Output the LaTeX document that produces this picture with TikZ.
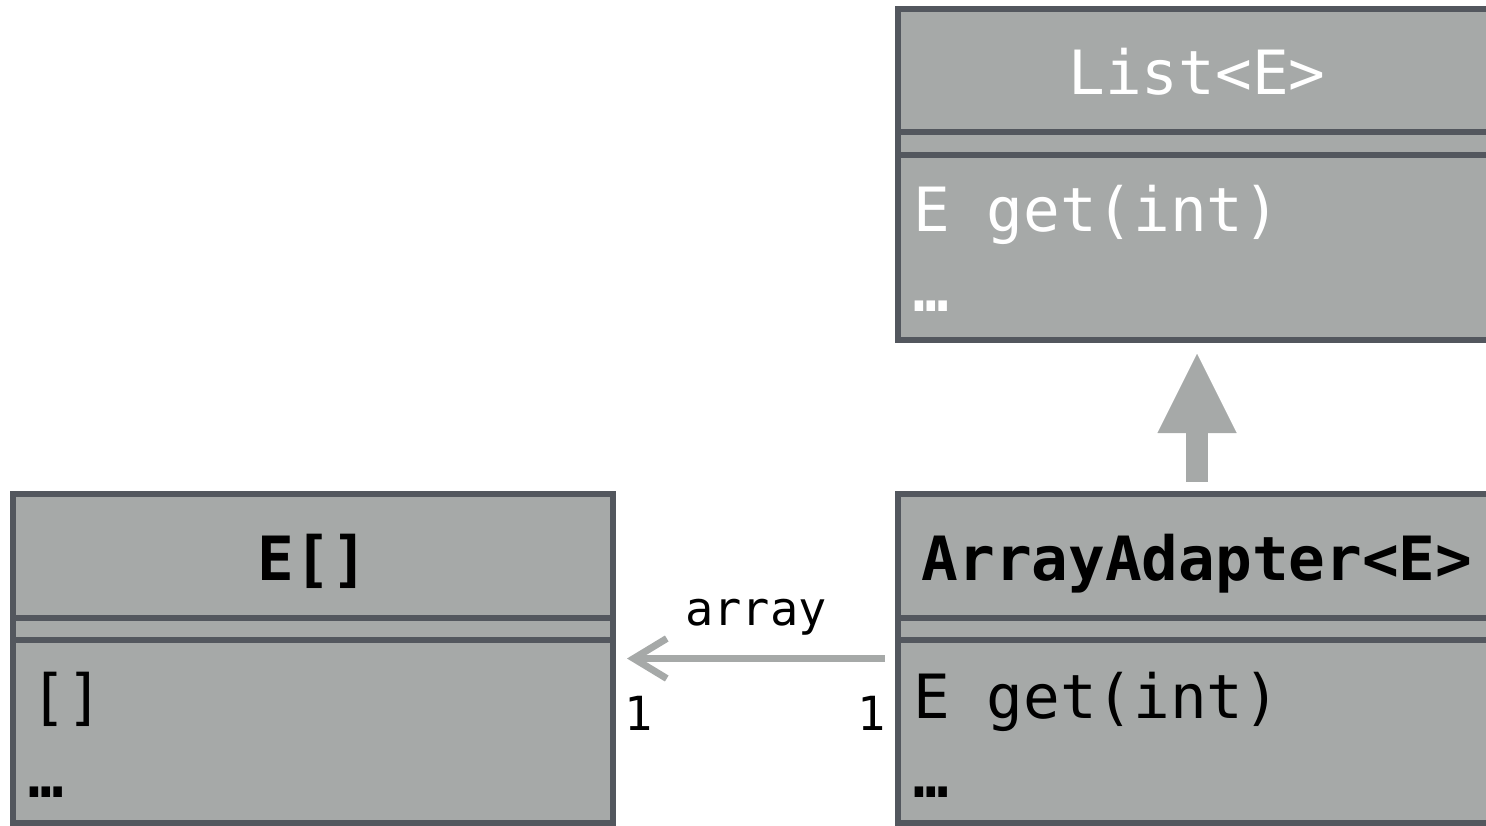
\documentclass[tikz,border=0pt]{standalone}
\usepackage{fontspec}
\setmainfont{DejaVu Sans Mono}
\usetikzlibrary{arrows.meta}
\definecolor{boxline}{RGB}{83,87,94}
\definecolor{boxfill}{RGB}{166,169,168}
\definecolor{arrowgray}{RGB}{166,169,168}
\begin{document}
\begin{tikzpicture}[x=1pt,y=-1pt,
  classbox/.style={draw=boxline, fill=boxfill, line width=6pt, outer sep=0pt, inner sep=0pt, rectangle, anchor=north west},
  sepline/.style={draw=boxline, line width=6pt},
  hdr/.style={font=\fontsize{61}{72}\selectfont, inner sep=0pt, anchor=base},
  body/.style={font=\fontsize{61}{72}\selectfont, inner sep=0pt, anchor=base west},
  dotsty/.style={font=\fontsize{59}{70}\selectfont\bfseries, inner sep=0pt, anchor=base west},
  lbl/.style={font=\fontsize{47}{56}\selectfont, inner sep=0pt, anchor=base},
  inherit/.style={draw=arrowgray, line width=22pt, shorten <=12pt, shorten >=14pt, -{Triangle[length=79pt,width=79pt,line width=0.01pt]}},
  assoc/.style={draw=arrowgray, line width=7pt, shorten <=13pt, shorten >=14pt, -{Straight Barb[length=33pt,width=40pt]}}
]
\useasboundingbox (0,0) rectangle (1486,826);
\clip (0,0) rectangle (1486,826);

% List<E>
\node[classbox, minimum width=598pt, minimum height=331pt] (list) at (898,9) {};
\draw[sepline] (list.west |- 0,132) -- (list.east |- 0,132);
\draw[sepline] (list.west |- 0,155) -- (list.east |- 0,155);
\node[hdr, text=white] (listname) at (1197,95) {List<E>};
\node[body, text=white] (listm) at (913,232) {E get(int)};
\node[dotsty, text=white] (listd) at (913,312) {…};

% E[]
\node[classbox, minimum width=600pt, minimum height=329pt] (earr) at (13,494) {};
\draw[sepline] (earr.west |- 0,618) -- (earr.east |- 0,618);
\draw[sepline] (earr.west |- 0,640) -- (earr.east |- 0,640);
\node[hdr] (earrname) at (313,580) {\bfseries E[]};
\node[body] (earrm) at (30,718) {[]};
\node[dotsty] (earrd) at (28,797) {…};

% ArrayAdapter<E>
\node[classbox, minimum width=598pt, minimum height=329pt] (aa) at (898,494) {};
\draw[sepline] (aa.west |- 0,618) -- (aa.east |- 0,618);
\draw[sepline] (aa.west |- 0,640) -- (aa.east |- 0,640);
\node[hdr] (aaname) at (1197,580) {\bfseries ArrayAdapter<E>};
\node[body] (aam) at (913,718) {E get(int)};
\node[dotsty] (aad) at (913,797) {…};

% connectors
\draw[inherit] (aa.north) -- (list.south);
\draw[assoc] (aa.west) -- (earr.east);
\node[lbl] (lblarray) at (756,625) {array};
\node[lbl] (mulleft) at (639,730) {1};
\node[lbl] (mulright) at (872,730) {1};
\end{tikzpicture}
\end{document}
